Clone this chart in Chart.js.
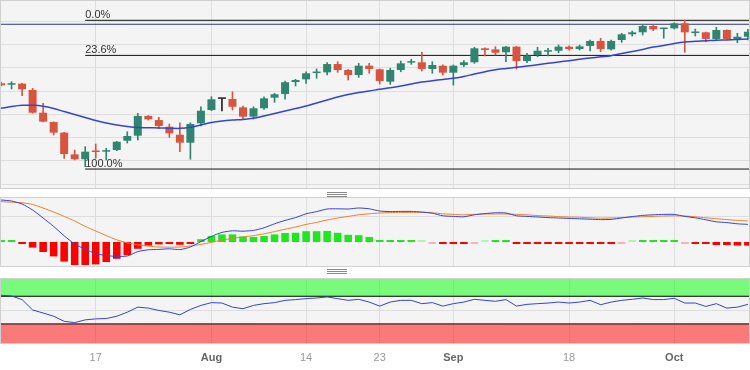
<!DOCTYPE html>
<html lang="en">
<head>
  <meta charset="UTF-8">
  <title>USD/JPY Daily - Fibonacci, MACD, RSI</title>
  <script src="https://cdn.jsdelivr.net/npm/chart.js"></script>
  <style>
    html, body { margin: 0; padding: 0; background: #fff; }
    body { width: 750px; height: 370px; position: relative; overflow: hidden; }
    canvas { position: absolute; left: 0; }
    .grip { position: absolute; left: 327px; width: 20px; height: 1px; background: #8a8a8a; }
  </style>
</head>
<body>
  <canvas id="priceChart" style="top:0" width="750" height="189"></canvas>
  <div class="grip" style="top:192px"></div>
  <div class="grip" style="top:194px"></div>
  <div class="grip" style="top:196px"></div>
  <canvas id="macdChart" style="top:197px" width="750" height="70"></canvas>
  <div class="grip" style="top:269px"></div>
  <div class="grip" style="top:271px"></div>
  <div class="grip" style="top:273px"></div>
  <canvas id="rsiChart" style="top:278px" width="750" height="92"></canvas>

  <script>
    // x positions are trading-day indexes, 0 = Jul 4 ... 71 = Oct 11
    const xTickIdx = [9, 20, 29, 36, 43, 54, 64];
    const xTickLabels = ["17", "Aug", "14", "23", "Sep", "18", "Oct"];

    const openP = [144.66,144.54,144.63,144.09,142.14,141.34,140.43,138.57,138.15,138.88,
      138.80,138.94,139.74,140.17,141.86,141.51,140.94,140.25,139.57,141.23,
      142.37,143.33,143.31,142.60,141.80,142.52,143.43,143.74,144.77,145.00,
      145.54,145.60,146.31,145.80,145.37,146.17,145.86,144.80,145.80,146.43,
      146.46,145.89,146.17,145.57,146.23,146.46,147.66,147.57,147.32,147.80,
      146.57,147.09,147.37,147.45,147.80,147.60,147.86,148.29,147.57,148.37,
      148.86,149.03,149.57,149.31,149.37,149.80,148.97,149.03,148.46,149.23,
      148.46,148.65];
    const highP = [144.77,144.80,144.66,144.23,142.95,141.36,140.45,138.94,139.23,139.46,
      139.09,139.68,140.51,142.09,141.90,141.75,141.17,141.28,141.28,142.65,
      143.51,143.37,143.94,142.71,142.65,143.51,143.80,144.86,145.00,145.65,
      145.89,146.43,146.51,145.85,146.37,146.37,145.89,145.95,146.57,146.72,
      147.32,146.51,146.25,146.23,146.60,147.75,147.71,147.80,147.82,147.82,
      147.23,147.75,147.66,147.94,147.88,147.94,148.37,148.52,148.37,148.95,
      149.14,149.66,149.66,149.40,149.85,150.06,149.31,149.05,149.46,149.25,
      148.95,149.29];
    const lowP = [144.43,144.17,143.60,142.09,141.34,140.23,138.23,138.09,137.51,138.23,
      138.09,138.88,139.54,139.80,141.51,140.80,140.03,138.80,138.15,141.00,
      142.31,142.29,142.37,141.60,141.60,142.43,143.03,143.31,144.43,144.66,
      145.09,145.37,145.60,144.94,145.17,145.52,144.60,144.57,145.65,146.29,
      145.71,145.52,145.37,144.51,146.08,146.37,147.00,147.09,146.51,145.89,
      146.43,146.94,147.00,147.28,147.51,147.51,147.43,147.37,147.51,148.17,
      148.71,148.80,149.17,148.52,149.31,147.32,148.71,148.23,148.37,148.43,
      148.14,148.37];
    const closeP = [144.49,144.66,144.15,142.14,141.37,140.43,138.60,138.15,138.80,138.77,
      138.88,139.65,140.14,141.86,141.57,141.00,140.37,139.57,141.17,142.31,
      143.29,143.33,142.65,141.80,142.52,143.37,143.72,144.75,144.94,145.52,
      145.60,146.31,145.80,145.37,146.17,145.89,144.86,145.80,146.37,146.51,
      145.89,146.23,145.57,146.17,146.46,147.66,147.51,147.28,147.80,146.57,
      147.03,147.45,147.45,147.80,147.60,147.83,148.29,147.60,148.29,148.86,
      149.03,149.57,149.29,149.37,149.80,149.03,149.03,148.46,149.23,148.46,
      148.65,149.08];
    const ma20 = [142.52,142.67,142.77,142.77,142.69,142.50,142.24,141.99,141.73,141.47,
      141.26,141.09,140.96,140.87,140.85,140.83,140.81,140.80,140.89,141.09,
      141.30,141.43,141.51,141.56,141.66,141.86,142.07,142.29,142.50,142.71,
      142.97,143.23,143.49,143.70,143.87,144.00,144.15,144.28,144.43,144.60,
      144.77,144.88,144.99,145.09,145.24,145.46,145.65,145.83,145.93,146.03,
      146.14,146.25,146.37,146.49,146.60,146.72,146.83,146.93,147.03,147.21,
      147.39,147.56,147.77,147.90,148.07,148.20,148.26,148.30,148.35,148.37,
      148.41,148.46];

    const fibHigh = 150.06;
    const fibLow = 137.31;
    const fibRatios = [0, 0.236, 1];
    const fibLabels = ["0.0%", "23.6%", "100.0%"];
    const fibStartIdx = 8;
    const resistance = 149.72;

    const macdLine = [1.05,1.025,0.95,0.80,0.60,0.39,0.155,-0.05,-0.18,-0.29,
      -0.34,-0.36,-0.35,-0.24,-0.195,-0.185,-0.17,-0.19,-0.125,0.01,
      0.14,0.24,0.28,0.27,0.29,0.355,0.455,0.54,0.61,0.705,
      0.76,0.825,0.83,0.825,0.85,0.83,0.775,0.76,0.765,0.765,
      0.75,0.72,0.655,0.64,0.63,0.68,0.71,0.73,0.725,0.655,
      0.64,0.625,0.61,0.60,0.59,0.58,0.57,0.56,0.565,0.60,
      0.635,0.665,0.68,0.69,0.69,0.64,0.605,0.555,0.505,0.485,
      0.455,0.44];
    const signalLine = [1.01,0.995,0.98,0.94,0.85,0.75,0.64,0.525,0.39,0.275,
      0.16,0.055,-0.02,-0.07,-0.105,-0.125,-0.13,-0.125,-0.10,-0.06,
      -0.01,0.05,0.09,0.125,0.16,0.205,0.26,0.32,0.375,0.44,
      0.49,0.55,0.60,0.64,0.68,0.705,0.725,0.735,0.74,0.74,
      0.74,0.73,0.705,0.69,0.68,0.69,0.70,0.70,0.70,0.69,
      0.68,0.66,0.65,0.635,0.625,0.62,0.605,0.595,0.60,0.61,
      0.625,0.63,0.64,0.65,0.655,0.65,0.63,0.605,0.58,0.56,
      0.54,0.525];
    const macdHist = [0.04,0.03,-0.03,-0.14,-0.25,-0.36,-0.49,-0.575,-0.575,-0.56,
      -0.50,-0.42,-0.33,-0.17,-0.09,-0.06,-0.04,-0.07,-0.025,0.07,
      0.15,0.19,0.19,0.14,0.125,0.15,0.19,0.225,0.23,0.27,
      0.27,0.275,0.23,0.18,0.17,0.125,0.05,0.025,0.025,0.025,
      0.008,-0.012,-0.05,-0.05,-0.05,-0.01,0.01,0.025,0.025,-0.035,
      -0.035,-0.035,-0.035,-0.035,-0.035,-0.035,-0.035,-0.035,-0.035,-0.01,
      0.01,0.035,0.035,0.035,0.035,-0.008,-0.025,-0.05,-0.075,-0.075,
      -0.09,-0.09];

    const rsi14 = [71.5,70.4,65.2,50.2,45.8,41.1,33.8,31.9,35.9,37.3,
      37.8,41.1,47.0,54.3,52.9,49.5,47.0,43.2,51.0,56.8,
      60.8,60.2,54.3,52.0,56.8,59.3,60.8,64.1,65.2,66.6,
      67.5,69.0,66.6,64.1,65.6,61.6,55.8,61.6,64.1,64.1,
      59.3,60.8,55.8,59.3,61.6,65.6,64.1,62.7,65.2,55.8,
      58.3,59.3,60.2,61.6,60.2,61.6,64.1,57.8,61.6,64.1,
      65.6,67.5,65.2,65.2,67.1,60.2,60.2,55.3,59.3,52.9,
      54.3,58.3];
    const rsiBands = [70, 30];

    const priceGrid = [136, 138, 140, 142, 144, 146, 148, 150];
    const macdGrid = [0.63];
    const rsiGrid = [50];

    const FONT = "'Liberation Sans', Arial, sans-serif";
    const GRID = "#dedede";
    const UP = "#2f8570", DOWN = "#d9543f", FLAT = "#222222";

    const pts = arr => arr.map((v, i) => ({ x: i, y: v }));
    const hline = (y, from, to) => [{ x: from, y: y }, { x: to, y: y }];
    const isMonth = c => !!(c && c.tick && isNaN(+c.tick.label));

    function candleColor(i) {
      if (closeP[i] > openP[i]) return UP;
      if (closeP[i] < openP[i]) return DOWN;
      return FLAT;
    }

    function xAxis(labels) {
      return {
        type: "linear", min: -0.1, max: 71.2, offset: false,
        afterBuildTicks: s => { s.ticks = xTickIdx.map(v => ({ value: v })); },
        grid: { color: GRID, drawTicks: false, offset: false },
        border: { display: false },
        ticks: labels ? {
          autoSkip: false, maxRotation: 0, padding: 7,
          callback: v => xTickLabels[xTickIdx.indexOf(v)],
          color: c => isMonth(c) ? "#666" : "#999",
          font: c => ({ family: FONT, size: 11, weight: isMonth(c) ? "bold" : "normal" })
        } : { display: false }
      };
    }

    function yAxis(min, max, grid) {
      return {
        min: min, max: max,
        afterBuildTicks: s => { s.ticks = grid.map(v => ({ value: v })); },
        grid: { color: GRID, drawTicks: false },
        border: { display: false },
        ticks: { display: false }
      };
    }

    const panel = {
      id: "panel",
      beforeDraw(chart) {
        const { ctx, chartArea: a } = chart;
        ctx.save();
        ctx.fillStyle = "#f4f4f4";
        ctx.fillRect(a.left, a.top, a.right - a.left, a.bottom - a.top);
        ctx.restore();
      },
      afterDraw(chart) {
        const { ctx, chartArea: a } = chart;
        ctx.save();
        ctx.strokeStyle = "#d0d0d0";
        ctx.lineWidth = 1;
        ctx.strokeRect(a.left + 0.5, a.top + 0.5, a.right - a.left - 1, a.bottom - a.top - 1);
        ctx.restore();
      }
    };

    const fibText = {
      id: "fibText",
      afterDatasetsDraw(chart) {
        const { ctx, scales } = chart;
        const x = scales.x.getPixelForValue(fibStartIdx);
        ctx.save();
        ctx.font = "11px " + FONT;
        ctx.fillStyle = "#333";
        ctx.textBaseline = "alphabetic";
        fibRatios.forEach((r, k) => {
          const y = scales.y.getPixelForValue(fibHigh - r * (fibHigh - fibLow));
          ctx.fillText(fibLabels[k], x, y - 2);
        });
        ctx.restore();
      }
    };

    const common = {
      responsive: false,
      animation: false,
      events: [],
      layout: { padding: 0 },
      plugins: { legend: { display: false }, tooltip: { enabled: false } }
    };

    // price panel
    const fibSets = fibRatios.map(r => ({
      type: "line",
      data: hline(fibHigh - r * (fibHigh - fibLow), fibStartIdx, 73),
      borderColor: "#111", borderWidth: 1, pointRadius: 0, order: 3
    }));

    new Chart(document.getElementById("priceChart"), {
      type: "bar",
      data: {
        datasets: [
          {
            type: "line", data: pts(ma20), borderColor: "#3444d2", borderWidth: 1.5,
            pointRadius: 0, tension: 0.35, order: 0
          },
          {
            data: openP.map((o, i) => ({ x: i, y: [o, closeP[i]] })),
            backgroundColor: c => candleColor(c.dataIndex),
            barPercentage: 0.76, categoryPercentage: 1, grouped: false,
            minBarLength: 1.5, order: 1
          },
          {
            data: lowP.map((l, i) => ({ x: i, y: [l, highP[i]] })),
            backgroundColor: c => candleColor(c.dataIndex),
            barThickness: 1, grouped: false, order: 2
          },
          ...fibSets,
          {
            type: "line", data: hline(resistance, -1, 73),
            borderColor: "#2c3a78", borderWidth: 1, pointRadius: 0, order: 3
          }
        ]
      },
      options: Object.assign({}, common, {
        scales: { x: xAxis(false), y: yAxis(135.6, 151.8, priceGrid) }
      }),
      plugins: [panel, fibText]
    });

    // MACD panel
    new Chart(document.getElementById("macdChart"), {
      type: "bar",
      data: {
        datasets: [
          {
            type: "line", data: pts(macdLine), borderColor: "#3444d2", borderWidth: 1,
            pointRadius: 0, tension: 0.2, order: 0
          },
          {
            type: "line", data: pts(signalLine), borderColor: "#f0802c", borderWidth: 1,
            pointRadius: 0, tension: 0.2, order: 1
          },
          {
            data: pts(macdHist),
            backgroundColor: c => {
              const v = macdHist[c.dataIndex];
              if (Math.abs(v) < 0.015) return v >= 0 ? "#b4f2b4" : "#f6b4b4";
              return v >= 0 ? "#1fe61f" : "#ff0000";
            },
            barPercentage: 0.72, categoryPercentage: 1, minBarLength: 2, order: 2
          }
        ]
      },
      options: Object.assign({}, common, {
        scales: { x: xAxis(false), y: yAxis(-0.625, 1.125, macdGrid) }
      }),
      plugins: [panel]
    });

    // RSI panel
    new Chart(document.getElementById("rsiChart"), {
      type: "line",
      data: {
        datasets: [
          {
            data: pts(rsi14), borderColor: "#3444d2", borderWidth: 1,
            pointRadius: 0, tension: 0, order: 0
          },
          {
            data: hline(rsiBands[0], -1, 73), borderColor: "#000", borderWidth: 1,
            pointRadius: 0, fill: "end", backgroundColor: "rgba(0,255,0,0.5)", order: 1
          },
          {
            data: hline(rsiBands[1], -1, 73), borderColor: "#000", borderWidth: 1,
            pointRadius: 0, fill: "start", backgroundColor: "rgba(255,0,0,0.5)", order: 1
          }
        ]
      },
      options: Object.assign({}, common, {
        layout: { padding: { bottom: -1.2 } },
        scales: { x: xAxis(true), y: yAxis(1, 96.4, rsiGrid) }
      }),
      plugins: [panel]
    });
  </script>
</body>
</html>
